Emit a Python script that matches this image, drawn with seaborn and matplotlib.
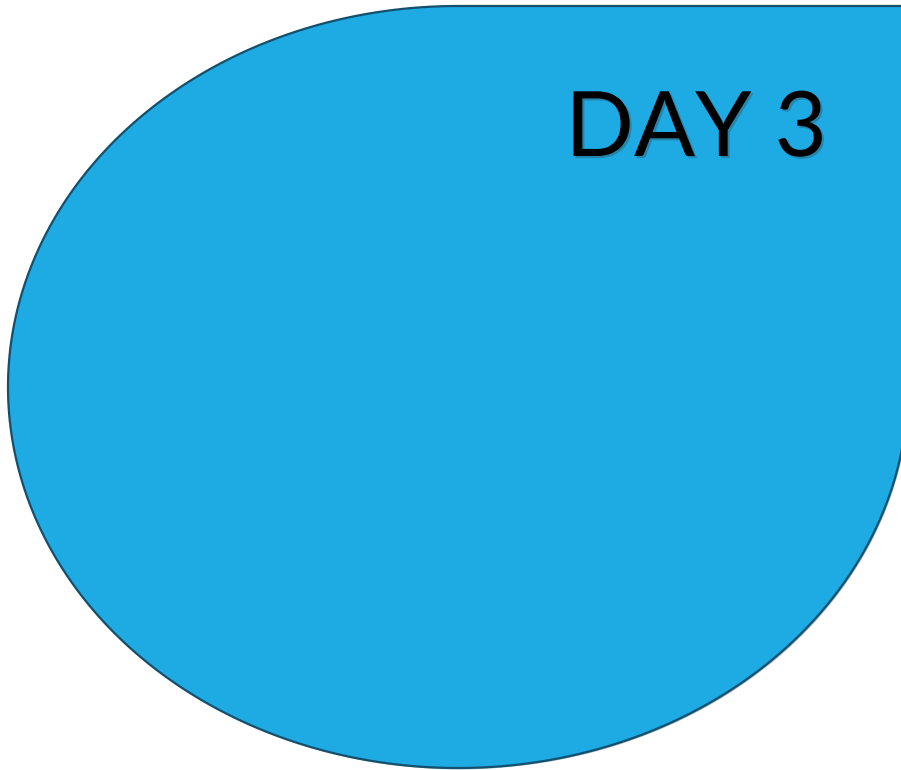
import matplotlib

matplotlib.use("Agg")

import matplotlib.patheffects as pe
import matplotlib.pyplot as plt
import numpy as np
import seaborn as sns


# slide content
LABELS = ["DAY 3"]
FILL_COLOR = "#1EAAE2"
EDGE_COLOR = "#12506E"

# teardrop outline: ellipse centre and radii (pixels), top-right corner square
CENTER_X = [458]
CENTER_Y = [387]
RADIUS_X = [450]
RADIUS_Y = [381]


def teardrop_outline(cx, cy, rx, ry):
    # arc from the right side, round the bottom and left, up to the top
    angles = np.linspace(0, 1.5 * np.pi, 400)
    xs = cx + rx * np.cos(angles)
    ys = cy + ry * np.sin(angles)
    # square corner at top-right
    xs = np.concatenate([xs, [cx + rx, cx + rx]])
    ys = np.concatenate([ys, [cy - ry, cy]])
    return xs, ys


def main() -> None:
    sns.set_style("white")
    plt.rcParams["font.family"] = ["Lato", "DejaVu Sans"]

    fig = plt.figure(figsize=(9.01, 7.70), dpi=100)
    ax = fig.add_axes([0, 0, 1, 1])
    ax.set_xlim(0, 901)
    ax.set_ylim(770, 0)
    ax.axis("off")

    xs, ys = teardrop_outline(CENTER_X[0], CENTER_Y[0], RADIUS_X[0], RADIUS_Y[0])
    ax.fill(xs, ys, facecolor=FILL_COLOR, edgecolor=EDGE_COLOR, linewidth=1.6,
            path_effects=[pe.SimplePatchShadow(offset=(1, -1), alpha=0.35), pe.Normal()])

    ax.text(
        696, 131, LABELS[0],
        fontsize=65, color="black", ha="center", va="center",
        path_effects=[pe.SimplePatchShadow(offset=(1.5, -1.5), shadow_rgbFace="#333333", alpha=0.3),
                      pe.Normal()],
    )

    fig.savefig("out.png", dpi=100)
    plt.close(fig)


if __name__ == "__main__":
    main()
